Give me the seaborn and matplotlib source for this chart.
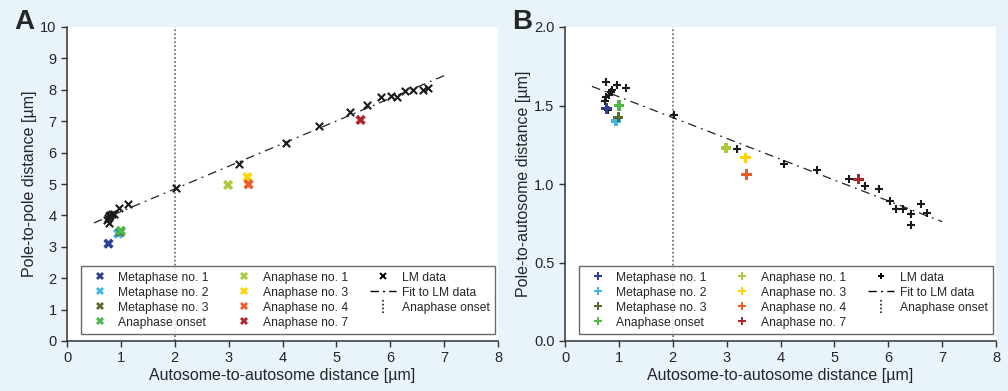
import matplotlib
matplotlib.use("Agg")
import matplotlib.pyplot as plt
import seaborn as sns
import pandas as pd
from matplotlib.lines import Line2D
from matplotlib.legend_handler import HandlerBase

# --- data ---
stages = ["Metaphase no. 1", "Metaphase no. 2", "Metaphase no. 3", "Anaphase onset",
          "Anaphase no. 1", "Anaphase no. 3", "Anaphase no. 4", "Anaphase no. 7"]
stage_colors = ["#2e3f98", "#3db5e6", "#586b2c", "#4cb848",
                "#a9cb3b", "#ffd400", "#f15a24", "#b0252a"]
stage_x = [0.77, 0.95, 0.99, 1.00, 2.99, 3.35, 3.37, 5.45]
stage_pole_pole = [3.10, 3.42, 3.47, 3.51, 4.97, 5.22, 4.99, 7.04]
stage_pole_auto = [1.48, 1.40, 1.425, 1.50, 1.23, 1.167, 1.06, 1.03]

lm_x_A = [0.75, 0.76, 0.78, 0.78, 0.80, 0.83, 0.88, 0.97, 1.14, 2.02, 3.20, 4.06,
          4.68, 5.26, 5.56, 5.82, 6.02, 6.13, 6.27, 6.42, 6.60, 6.70]
lm_y_A = [3.85, 3.92, 3.98, 3.77, 4.02, 4.03, 4.06, 4.22, 4.35, 4.88, 5.64, 6.32,
          6.85, 7.30, 7.53, 7.76, 7.79, 7.77, 7.96, 7.99, 7.99, 8.07]

lm_x_B = [0.77, 0.97, 1.14, 0.88, 0.85, 0.82, 0.77, 0.75, 0.80, 2.02, 3.20, 4.06,
          4.68, 5.27, 5.57, 5.83, 6.03, 6.14, 6.28, 6.43, 6.43, 6.60, 6.72]
lm_y_B = [1.65, 1.63, 1.61, 1.60, 1.585, 1.57, 1.555, 1.53, 1.47, 1.44, 1.22, 1.13,
          1.09, 1.03, 0.99, 0.97, 0.89, 0.84, 0.84, 0.81, 0.74, 0.87, 0.815]

fit_x = [0.5, 7.0]
fit_y_A = [3.76, 8.45]
fit_y_B = [1.622, 0.760]

anaphase_onset_x = 2.0

sns.set_style("ticks")
plt.rcParams["font.family"] = ["Liberation Sans", "DejaVu Sans"]
bg = "#e8f3fa"

fig = plt.figure(figsize=(10.08, 3.91), dpi=100, facecolor=bg)
W, H = 1008, 391


class VDotHandler(HandlerBase):
    def create_artists(self, legend, orig, xd, yd, width, height, fontsize, trans):
        cx = width / 2 - xd
        ln = Line2D([cx, cx], [-yd - 0.25 * height, -yd + 1.25 * height],
                    color="black", linestyle=(0, (1, 1.5)), linewidth=1.1,
                    transform=trans)
        return [ln]


def panel(rect, lm_x, lm_y, stage_y, fit_y, lm_marker, st_marker, ylim, yticks,
          ylabel, letter):
    ax = fig.add_axes([rect[0] / W, 1 - rect[3] / H,
                       (rect[2] - rect[0]) / W, (rect[3] - rect[1]) / H])
    ax.set_facecolor("white")

    ax.axvline(anaphase_onset_x, color="#777777", linestyle=(0, (1, 1.2)),
               linewidth=1.3, zorder=1)
    sns.lineplot(x=fit_x, y=fit_y, ax=ax, color="#222222", linewidth=0.9,
                 linestyle=(0, (7, 4, 1.5, 4)), zorder=2)
    sns.scatterplot(x=lm_x, y=lm_y, ax=ax, marker=lm_marker, color="#1a1a1a",
                    s=28, linewidth=1.5, zorder=3)
    df = pd.DataFrame({"x": stage_x, "y": stage_y, "stage": stages})
    sns.scatterplot(data=df, x="x", y="y", hue="stage", hue_order=stages,
                    palette=dict(zip(stages, stage_colors)), marker=st_marker,
                    s=55, linewidth=0, legend=False, ax=ax, zorder=4)

    ax.set_xlim(0, 8)
    ax.set_ylim(*ylim)
    ax.set_xticks(range(0, 9))
    ax.set_yticks(yticks)
    if isinstance(yticks[1], float):
        ax.set_yticklabels([f"{t:.1f}" for t in yticks])
    ax.tick_params(labelsize=10.5, length=4, width=1, color="#333333")
    sns.despine(ax=ax)
    for s in ("left", "bottom"):
        ax.spines[s].set_color("#333333")
        ax.spines[s].set_linewidth(1.1)
    ax.set_xlabel("Autosome-to-autosome distance [µm]", fontsize=11.5, labelpad=2)
    ax.set_ylabel(ylabel, fontsize=11.5, labelpad=2)

    handles = [Line2D([], [], marker=st_marker, color=c, linestyle="none",
                      markersize=6, markeredgewidth=0) for c in stage_colors]
    onset_handle = Line2D([], [])
    handles += [Line2D([], [], marker=lm_marker, color="black", linestyle="none",
                       markersize=5, markeredgewidth=1.4),
                Line2D([], [], color="black", linewidth=1,
                       linestyle=(0, (6, 3, 1.5, 3))),
                onset_handle]
    labels = stages + ["LM data", "Fit to LM data", "Anaphase onset"]
    leg = ax.legend(handles, labels, ncol=3, mode="expand",
                    bbox_to_anchor=(0.032, 0.022, 0.961, 0.214), loc="lower left",
                    fontsize=8.7, frameon=True, fancybox=False, borderaxespad=0,
                    handlelength=2.2, handletextpad=0.45, labelspacing=0.25,
                    borderpad=0.45, columnspacing=1.5,
                    handler_map={onset_handle: VDotHandler()})
    leg.get_frame().set_edgecolor("#444444")
    leg.get_frame().set_linewidth(1.0)
    leg.set_zorder(10)

    fig.text((rect[0] - 53) / W, 1 - 22 / H, letter, fontsize=20,
             fontweight="bold", ha="left", va="center")
    return ax


panel((67, 27, 498, 341), lm_x_A, lm_y_A, stage_pole_pole, fit_y_A, "x", "X",
      (0, 10), list(range(0, 11)), "Pole-to-pole distance [µm]", "A")
panel((565, 27, 996, 341), lm_x_B, lm_y_B, stage_pole_auto, fit_y_B, "+", "P",
      (0, 2.0), [0.0, 0.5, 1.0, 1.5, 2.0], "Pole-to-autosome distance [µm]", "B")

fig.savefig("out.png", dpi=100, facecolor=bg)
